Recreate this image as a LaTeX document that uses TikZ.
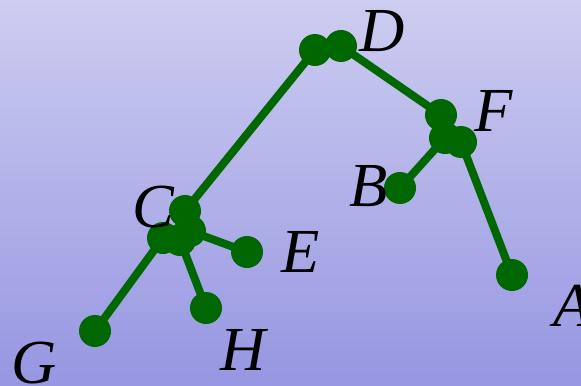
\documentclass[tikz,border=0pt]{standalone}
\usepackage{fontspec}
\setmainfont{Liberation Serif}
\definecolor{bgtop}{RGB}{205,205,241}
\definecolor{bgbottom}{RGB}{150,150,226}
\definecolor{leafgreen}{RGB}{0,102,0}
\pgfdeclarelayer{edges}
\pgfsetlayers{edges,main}
\tikzset{
  dot/.style={circle,fill=leafgreen,inner sep=0pt,minimum size=24pt},
  edge/.style={draw=leafgreen,line width=6pt},
  lbl/.style={font=\fontsize{47}{50}\selectfont\itshape,inner sep=0pt}
}
\begin{document}
\begin{tikzpicture}[x=0.75pt,y=-0.75pt]
  % Background
  \useasboundingbox (0,0) rectangle (581,385);
  \clip (0,0) rectangle (581,385);
  \begin{pgfonlayer}{edges}
    \shade[top color=bgtop,bottom color=bgbottom] (0,0) rectangle (581,385);
  \end{pgfonlayer}
  % Dots
  \node[dot] (d1) at (315,50) {};
  \node[dot] (d2) at (341,46) {};
  \node[dot] (f1) at (441,115) {};
  \node[dot] (f2) at (445,138) {};
  \node[dot] (f3) at (461,142) {};
  \node[dot] (b) at (400,188) {};
  \node[dot] (a) at (512,275) {};
  \node[dot] (c1) at (185,211) {};
  \node[dot] (c2) at (163,238) {};
  \node[dot] (c3) at (190,231) {};
  \node[dot] (c4) at (180,240) {};
  \node[dot] (e) at (247,252) {};
  \node[dot] (h) at (206,308) {};
  \node[dot] (g) at (95,331) {};
  % Edges, behind the dots
  \begin{pgfonlayer}{edges}
    \draw[edge] (d1.center) -- (c1.center);
    \draw[edge] (d2.center) -- (f1.center);
    \draw[edge] (f2.center) -- (b.center);
    \draw[edge] (f3.center) -- (a.center);
    \draw[edge] (c2.center) -- (g.center);
    \draw[edge] (c3.center) -- (e.center);
    \draw[edge] (c4.center) -- (h.center);
  \end{pgfonlayer}
  % Labels
  \node[lbl] (ld) at (382,31) {D};
  \node[lbl] (lf) at (494,111) {F};
  \node[lbl] (lb) at (369,186) {B};
  \node[lbl] (lc) at (153,207) {C};
  \node[lbl] (le) at (301,252) {E};
  \node[lbl] (lh) at (243,350) {H};
  \node[lbl] (lg) at (34,363) {G};
  \node[lbl] (la) at (573,306) {A};
\end{tikzpicture}
\end{document}
